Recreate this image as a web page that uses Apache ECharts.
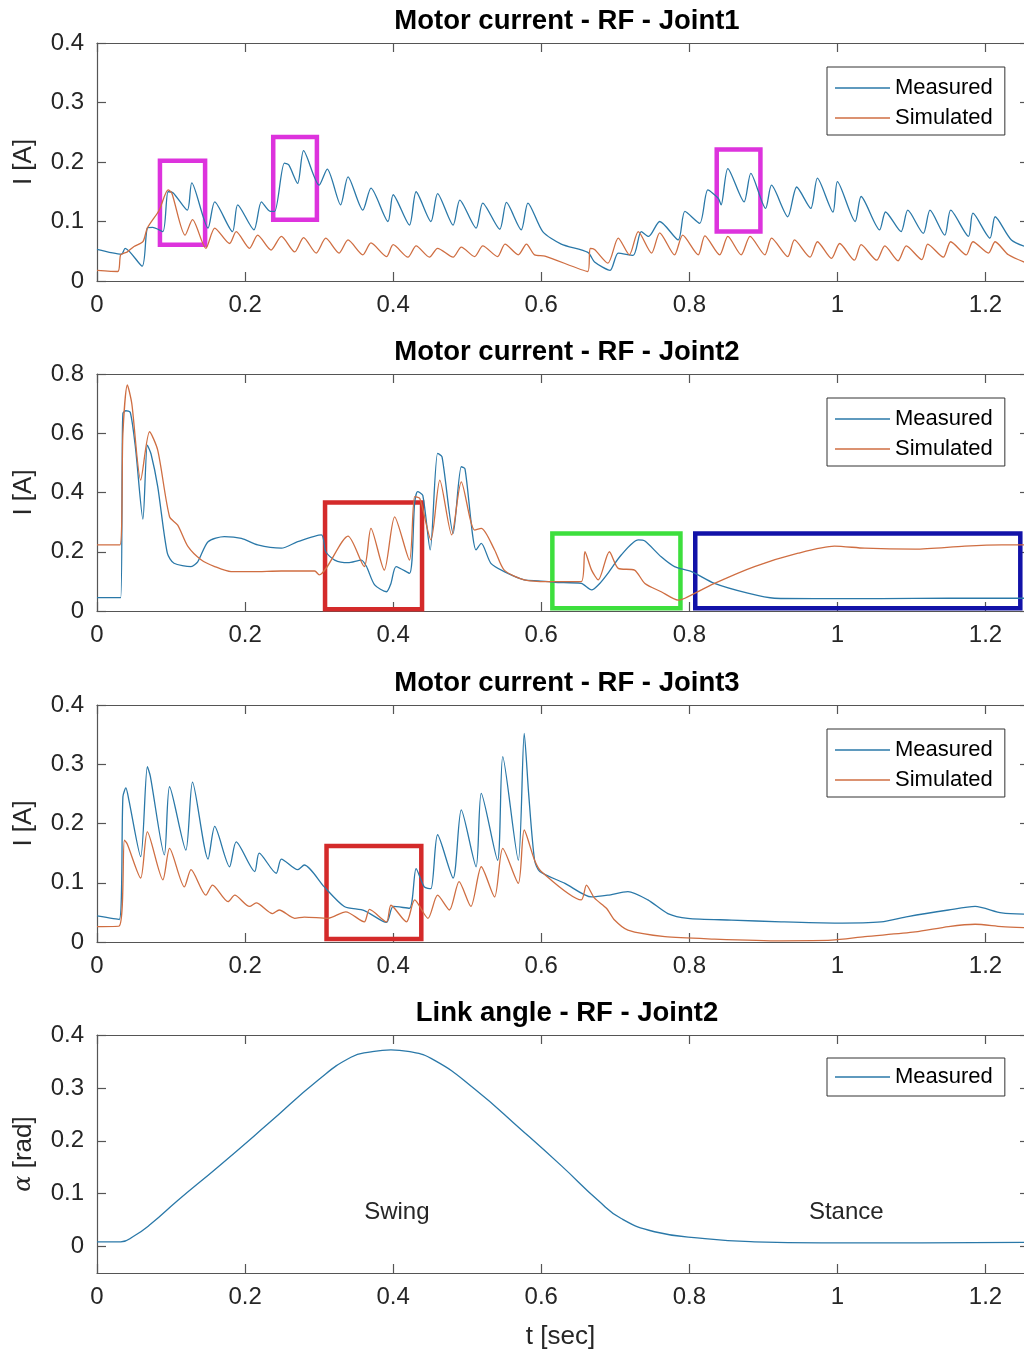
<!DOCTYPE html>
<html>
<head>
<meta charset="utf-8">
<script src="https://cdn.jsdelivr.net/npm/echarts@6/dist/echarts.min.js"></script>
<style>
  html, body { margin: 0; padding: 0; background: #fff; }
  #chart { width: 1024px; height: 1352px; }
</style>
</head>
<body>
<div id="chart"></div>
<script>
// ---- data: time [s] / value ----
var j1MeasT = [0, .033, .038, .061, .068, .075, .089, .096, .103, .122, .128, .150, .159, .183, .190, .212, .222, .234, .240, .253, .259, .271, .279, .300, .311, .329, .339, .359, .370, .393, .400, .422, .431, .451, .460, .481, .490, .512, .521, .544, .553, .573, .582, .602, .627, .663, .672, .693, .704, .724, .735, .745, .760, .785, .794, .814, .825, .839, .843, .852, .874, .883, .903, .911, .933, .945, .964, .973, .994, 1.000, 1.024, 1.032, 1.057, 1.065, 1.086, 1.095, 1.116, 1.125, 1.145, 1.153, 1.177, 1.183, 1.206, 1.213, 1.235, 1.260];
var j1MeasV = [.053, .045, .055, .025, .089, .090, .083, .150, .148, .119, .165, .089, .133, .083, .128, .086, .133, .117, .117, .198, .195, .164, .219, .161, .188, .128, .175, .119, .156, .100, .145, .094, .150, .100, .147, .094, .136, .089, .131, .087, .132, .086, .131, .083, .062, .048, .032, .018, .047, .043, .083, .075, .100, .069, .117, .097, .153, .139, .128, .189, .133, .181, .122, .161, .108, .158, .122, .173, .116, .167, .100, .142, .086, .116, .083, .119, .080, .119, .077, .119, .075, .114, .072, .108, .069, .055];

var j1SimT = [0, .028, .032, .041, .050, .062, .068, .084, .096, .101, .119, .129, .147, .159, .179, .188, .206, .217, .235, .249, .267, .279, .296, .309, .327, .339, .359, .370, .391, .400, .420, .431, .449, .460, .481, .492, .510, .521, .541, .551, .569, .580, .591, .605, .663, .666, .672, .690, .704, .719, .731, .749, .760, .780, .791, .812, .821, .841, .852, .870, .882, .902, .911, .933, .942, .963, .973, .992, 1.003, 1.023, 1.032, 1.053, 1.064, 1.082, 1.093, 1.114, 1.122, 1.143, 1.153, 1.174, 1.183, 1.204, 1.213, 1.231, 1.260];
var j1SimV = [.018, .016, .044, .049, .058, .066, .089, .119, .153, .148, .077, .103, .055, .089, .063, .083, .055, .077, .052, .075, .049, .073, .047, .072, .047, .069, .044, .064, .041, .061, .040, .059, .040, .055, .040, .057, .041, .059, .041, .062, .044, .062, .044, .042, .016, .055, .053, .030, .072, .044, .083, .047, .081, .044, .077, .044, .076, .044, .075, .044, .075, .044, .072, .041, .069, .040, .066, .038, .063, .035, .061, .035, .059, .034, .059, .036, .062, .040, .066, .044, .066, .047, .066, .044, .028];

var j2MeasT = [0, .032, .034, .035, .039, .045, .052, .062, .068, .073, .082, .095, .104, .127, .136, .150, .172, .195, .217, .249, .271, .303, .309, .321, .339, .357, .364, .375, .391, .397, .404, .422, .429, .433, .440, .450, .460, .466, .481, .492, .497, .512, .519, .532, .550, .577, .596, .618, .654, .668, .679, .690, .708, .731, .740, .762, .780, .803, .834, .879, .915, .969, 1.059, 1.150, 1.260];
var j2MeasV = [.045, .045, .500, .667, .676, .670, .550, .310, .560, .530, .420, .195, .161, .150, .166, .234, .251, .245, .223, .212, .234, .257, .200, .172, .163, .172, .150, .088, .065, .093, .150, .127, .364, .403, .390, .206, .532, .520, .262, .487, .480, .206, .228, .161, .133, .105, .102, .097, .093, .071, .093, .127, .189, .240, .236, .183, .150, .133, .093, .060, .043, .042, .042, .043, .043];

var j2SimT = [0, .031, .035, .041, .047, .059, .071, .082, .098, .109, .123, .141, .159, .181, .210, .249, .294, .300, .339, .361, .370, .388, .402, .422, .429, .436, .451, .463, .479, .492, .510, .519, .537, .550, .577, .609, .654, .659, .668, .677, .692, .704, .726, .740, .762, .785, .794, .834, .888, .947, .996, 1.037, 1.105, 1.172, 1.222, 1.260];
var j2SimV = [.223, .223, .600, .763, .700, .442, .605, .543, .318, .290, .217, .172, .150, .133, .133, .135, .135, .122, .253, .150, .279, .138, .318, .172, .386, .380, .240, .442, .257, .436, .273, .279, .206, .138, .105, .099, .099, .200, .138, .105, .200, .144, .138, .093, .065, .037, .043, .093, .150, .195, .219, .212, .209, .219, .223, .223];

var j3MeasT = [0, .030, .035, .039, .043, .059, .068, .072, .091, .098, .120, .129, .150, .159, .179, .188, .213, .219, .242, .249, .271, .280, .307, .334, .361, .391, .400, .422, .431, .442, .451, .460, .481, .492, .512, .519, .541, .548, .569, .577, .583, .591, .598, .632, .668, .690, .717, .744, .771, .798, .857, .924, .996, 1.059, 1.095, 1.150, 1.186, 1.222, 1.260];
var j3MeasV = [.044, .038, .245, .260, .240, .144, .296, .280, .147, .262, .155, .270, .140, .195, .127, .169, .119, .150, .116, .140, .122, .130, .093, .060, .053, .033, .060, .057, .124, .093, .090, .181, .108, .223, .127, .251, .138, .313, .138, .352, .250, .138, .119, .099, .076, .079, .085, .071, .048, .040, .037, .034, .032, .034, .043, .054, .060, .049, .047];

var j3SimT = [0, .030, .037, .041, .059, .068, .089, .098, .118, .127, .147, .156, .177, .186, .206, .215, .237, .246, .267, .280, .312, .336, .361, .368, .391, .397, .418, .429, .447, .460, .476, .489, .505, .519, .537, .548, .569, .577, .591, .600, .654, .661, .672, .688, .699, .717, .767, .834, .924, .992, 1.037, 1.105, 1.150, 1.186, 1.222, 1.260];
var j3SimV = [.026, .027, .172, .165, .108, .186, .105, .158, .093, .122, .079, .096, .068, .079, .060, .066, .048, .054, .040, .042, .040, .051, .034, .055, .034, .062, .034, .071, .040, .079, .054, .102, .060, .127, .076, .158, .099, .189, .138, .119, .071, .096, .074, .057, .037, .020, .009, .005, .002, .003, .009, .017, .026, .030, .026, .024];

var angleT = [0, .032, .050, .073, .109, .163, .231, .298, .343, .370, .397, .420, .456, .510, .573, .627, .677, .708, .753, .821, .888, .978, 1.114, 1.260];
var angleV = [.009, .009, .020, .043, .087, .150, .232, .314, .358, .368, .372, .369, .352, .298, .221, .153, .087, .053, .028, .015, .009, .007, .007, .008];

// highlight boxes: [t0, v0, t1, v1]
var magentaBoxes = [[.085, .061, .146, .202], [.238, .103, .297, .242], [.837, .083, .896, .221]];
var redBoxJ2 = [.308, .006, .439, .366];
var greenBoxJ2 = [.615, .009, .788, .262];
var blueBoxJ2 = [.808, .009, 1.247, .262];
var redBoxJ3 = [.310, .005, .438, .162];

var phaseLabels = [{name: 'Swing', t: .405, v: .065}, {name: 'Stance', t: 1.012, v: .065}];

var xTicks = [0, .2, .4, .6, .8, 1, 1.2];
var yTicks04 = [0, .1, .2, .3, .4];
var yTicks08 = [0, .2, .4, .6, .8];

var titles = ['Motor current - RF - Joint1', 'Motor current - RF - Joint2', 'Motor current - RF - Joint3', 'Link angle - RF - Joint2'];

// ---- chart ----
var FONT = '"Liberation Sans", Arial, sans-serif';
var TXT = '#262626';
var AX = '#555';
var C_MEAS = '#2a78a8';
var C_SIM = '#cf6e42';
var X_MAX = 1.252;

function zip(t, v) {
  var out = [];
  for (var i = 0; i < t.length; i++) out.push([t[i], v[i]]);
  return out;
}

function box(b, color) {
  return [{coord: [b[0], b[1]], itemStyle: {color: 'rgba(0,0,0,0)', borderColor: color, borderWidth: 4.5}}, {coord: [b[2], b[3]]}];
}

var gridTops = [43, 374, 705, 1035];
var gridHeights = [238, 237, 237, 238];
var yRanges = [[0, .4, yTicks04], [0, .8, yTicks08], [0, .4, yTicks04], [-.05, .4, yTicks04]];

var grids = [], xAxes = [], yAxes = [], titleOpts = [];
for (var g = 0; g < 4; g++) {
  grids.push({left: 97, top: gridTops[g], right: 0, height: gridHeights[g]});
  titleOpts.push({
    text: titles[g], left: 567, top: gridTops[g] - 36, textAlign: 'center', padding: 0,
    textStyle: {fontFamily: FONT, fontSize: 27.5, fontWeight: 'bold', color: '#000'}
  });
  var axLine = {show: true, onZero: false, lineStyle: {color: AX, width: 1.2}};
  var tick = {show: true, inside: true, length: 9, lineStyle: {color: AX, width: 1.2}, customValues: xTicks};
  xAxes.push({
    type: 'value', gridIndex: g, min: 0, max: X_MAX, position: 'bottom',
    axisLine: axLine, axisTick: tick, splitLine: {show: false},
    axisLabel: {customValues: xTicks, margin: 12, fontFamily: FONT, fontSize: 24, color: TXT},
    name: g === 3 ? 't [sec]' : '', nameLocation: 'middle', nameGap: 51,
    nameTextStyle: {fontFamily: FONT, fontSize: 26, color: TXT}
  });
  xAxes.push({
    type: 'value', gridIndex: g, min: 0, max: X_MAX, position: 'top',
    axisLine: axLine, axisTick: tick, axisLabel: {show: false}, splitLine: {show: false}
  });
  var yr = yRanges[g];
  var ytick = {show: true, inside: true, length: 9, lineStyle: {color: AX, width: 1.2}, customValues: yr[2]};
  yAxes.push({
    type: 'value', gridIndex: g, min: yr[0], max: yr[1], position: 'left',
    axisLine: axLine, axisTick: ytick, splitLine: {show: false},
    axisLabel: {customValues: yr[2], margin: 13, fontFamily: FONT, fontSize: 24, color: TXT},
    name: g === 3 ? '{a|α} [rad]' : 'I [A]', nameLocation: 'middle', nameGap: 60, nameRotate: 90,
    nameTextStyle: {
      fontFamily: FONT, fontSize: 26, color: TXT,
      rich: {a: {fontFamily: '"DejaVu Serif", serif', fontStyle: 'italic', fontSize: 24, color: TXT}}
    }
  });
  // right edge of the box lies just outside the picture: only tick stubs show
  yAxes.push({
    type: 'value', gridIndex: g, min: yr[0], max: yr[1], position: 'right',
    axisLine: {show: false, onZero: false},
    axisTick: {show: true, inside: true, length: 4, lineStyle: {color: AX, width: 1.2}, customValues: yr[2]},
    axisLabel: {show: false}, splitLine: {show: false}
  });
}

function lineSeries(name, g, t, v, color, smooth) {
  return {
    name: name, type: 'line', xAxisIndex: 2 * g, yAxisIndex: 2 * g,
    data: zip(t, v), symbol: 'none', animation: false, smooth: smooth,
    lineStyle: {color: color, width: 1.3}, itemStyle: {color: color}
  };
}

var s1 = lineSeries('Measured', 0, j1MeasT, j1MeasV, C_MEAS, 0.25);
s1.markArea = {silent: true, data: magentaBoxes.map(function (b) { return box(b, '#dd33dd'); })};
var s2 = lineSeries('Measured', 1, j2MeasT, j2MeasV, C_MEAS, 0.25);
s2.markArea = {silent: true, data: [box(redBoxJ2, '#d42a2a'), box(greenBoxJ2, '#3ddf3d'), box(blueBoxJ2, '#1212a8')]};
var s3 = lineSeries('Measured', 2, j3MeasT, j3MeasV, C_MEAS, 0.25);
s3.markArea = {silent: true, data: [box(redBoxJ3, '#d42a2a')]};
var s4 = lineSeries('Measured', 3, angleT, angleV, C_MEAS, 0.5);
s4.markPoint = {
  silent: true, symbol: 'circle', symbolSize: 1, itemStyle: {color: 'rgba(0,0,0,0)'},
  label: {show: true, position: 'inside', formatter: '{b}', fontFamily: FONT, fontSize: 24, color: TXT},
  data: phaseLabels.map(function (p) { return {name: p.name, coord: [p.t, p.v]}; })
};

var series = [
  s1, lineSeries('Simulated', 0, j1SimT, j1SimV, C_SIM, 0.25),
  s2, lineSeries('Simulated', 1, j2SimT, j2SimV, C_SIM, 0.25),
  s3, lineSeries('Simulated', 2, j3SimT, j3SimV, C_SIM, 0.25),
  s4
];

function legendAt(top, names) {
  return {
    left: 827, top: top, orient: 'vertical', data: names,
    backgroundColor: '#fff', borderColor: '#333', borderWidth: 1,
    padding: names.length > 1 ? [8, 12, 4, 8] : [6, 12, 6, 8],
    icon: 'rect', itemWidth: 55, itemHeight: 1.4, itemGap: 4, selectedMode: false,
    textStyle: {fontFamily: FONT, fontSize: 22, color: '#000', lineHeight: 26}
  };
}

var chart = echarts.init(document.getElementById('chart'));
chart.setOption({
  backgroundColor: '#fff',
  animation: false,
  title: titleOpts,
  grid: grids,
  xAxis: xAxes,
  yAxis: yAxes,
  legend: [
    legendAt(67, ['Measured', 'Simulated']),
    legendAt(398, ['Measured', 'Simulated']),
    legendAt(729, ['Measured', 'Simulated']),
    legendAt(1058, ['Measured'])
  ],
  series: series
});
</script>
</body>
</html>
